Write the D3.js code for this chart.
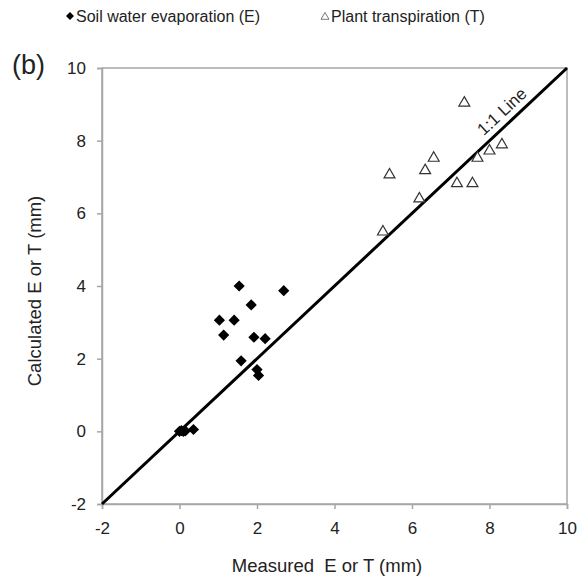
<!DOCTYPE html>
<html>
<head>
<meta charset="utf-8">
<script src="https://cdn.jsdelivr.net/npm/d3@7"></script>
<style>
  body { margin: 0; background: #fff; }
  text { font-family: "Liberation Sans", Arial, sans-serif; fill: #222; }
</style>
</head>
<body>
<div id="chart"></div>
<script>
// Chart size
var width = 579;
var height = 576;

// Margins
var margin = { top: 68, right: 12, bottom: 72, left: 102 };
var innerWidth = width - margin.left - margin.right;
var innerHeight = height - margin.top - margin.bottom;

// Data: soil water evaporation (E)
var evapMeasured = [1.54, 2.69, 1.85, 1.03, 1.41, 1.14, 1.92, 2.21, 1.59, 2.0, 2.04, 0.0, 0.05, 0.1, 0.15, 0.36];
var evapCalculated = [4.0, 3.87, 3.48, 3.06, 3.06, 2.65, 2.59, 2.55, 1.94, 1.7, 1.54, 0.0, 0.02, 0.0, 0.01, 0.05];

// Data: plant transpiration (T)
var transMeasured = [7.35, 5.42, 6.56, 6.34, 6.19, 5.25, 7.16, 7.56, 7.69, 8.0, 8.32];
var transCalculated = [9.04, 7.06, 7.52, 7.18, 6.4, 5.49, 6.82, 6.82, 7.52, 7.72, 7.89];

var tickValues = [-2, 0, 2, 4, 6, 8, 10];
var oneToOne = [-2, 10];

var svg = d3.select("#chart")
  .append("svg")
  .attr("width", width)
  .attr("height", height);

var g = svg.append("g")
  .attr("transform", "translate(" + margin.left + "," + margin.top + ")");

var x = d3.scaleLinear().domain([-2, 10]).range([0, innerWidth]);
var y = d3.scaleLinear().domain([-2, 10]).range([innerHeight, 0]);

// Frame
g.append("rect")
  .attr("width", innerWidth)
  .attr("height", innerHeight)
  .attr("fill", "none")
  .attr("stroke", "#a6a6a6")
  .attr("stroke-width", 1.5);

// Axes (plain hyphen for negatives, like the original)
var xAxis = g.append("g")
  .attr("transform", "translate(0," + innerHeight + ")")
  .call(d3.axisBottom(x).tickValues(tickValues).tickSize(5).tickPadding(13).tickFormat(function (d) { return String(d); }));

var yAxis = g.append("g")
  .call(d3.axisLeft(y).tickValues(tickValues).tickSize(5).tickPadding(11).tickFormat(function (d) { return String(d); }));

[xAxis, yAxis].forEach(function (a) {
  a.select(".domain").attr("stroke", "#a6a6a6").attr("stroke-width", 1.5);
  a.selectAll(".tick line").attr("stroke", "#a6a6a6").attr("stroke-width", 1.5);
  a.selectAll(".tick text")
    .style("font-family", "'Liberation Sans', Arial, sans-serif")
    .style("font-size", "17px")
    .attr("fill", "#222");
});

// 1:1 line
g.append("line")
  .attr("x1", x(oneToOne[0])).attr("y1", y(oneToOne[0]))
  .attr("x2", x(oneToOne[1])).attr("y2", y(oneToOne[1]))
  .attr("stroke", "#000")
  .attr("stroke-width", 3);

var angle = Math.atan2(y(oneToOne[0]) - y(oneToOne[1]), x(oneToOne[1]) - x(oneToOne[0])) * 180 / Math.PI;
g.append("text")
  .attr("transform", "translate(" + (x(8.55) - 5) + "," + (y(8.55) - 5) + ") rotate(" + (-angle) + ")")
  .attr("text-anchor", "middle")
  .style("font-size", "17px")
  .text("1:1 Line");

// E points (diamonds)
var diamond = d3.symbol().type(d3.symbolDiamond2).size(80);
g.selectAll(".evap")
  .data(evapMeasured)
  .enter()
  .append("path")
  .attr("class", "evap")
  .attr("d", diamond)
  .attr("transform", function (d, i) {
    return "translate(" + x(d) + "," + y(evapCalculated[i]) + ")";
  })
  .attr("fill", "#000");

// T points (open triangles)
var triangle = d3.symbol().type(d3.symbolTriangle2).size(85);
g.selectAll(".trans")
  .data(transMeasured)
  .enter()
  .append("path")
  .attr("class", "trans")
  .attr("d", triangle)
  .attr("transform", function (d, i) {
    return "translate(" + x(d) + "," + y(transCalculated[i]) + ")";
  })
  .attr("fill", "#fff")
  .attr("stroke", "#333")
  .attr("stroke-width", 1.2);

// Axis titles
svg.append("text")
  .attr("x", 327)
  .attr("y", 572)
  .attr("text-anchor", "middle")
  .style("font-size", "18.5px")
  .style("white-space", "pre")
  .attr("xml:space", "preserve")
  .text("Measured  E or T (mm)");

svg.append("text")
  .attr("transform", "translate(41,291) rotate(-90)")
  .attr("text-anchor", "middle")
  .style("font-size", "18.5px")
  .text("Calculated E or T (mm)");

// Panel label
svg.append("text")
  .attr("x", 12)
  .attr("y", 74)
  .style("font-size", "27px")
  .text("(b)");

// Legend
var legend = svg.append("g");
legend.append("path")
  .attr("d", d3.symbol().type(d3.symbolDiamond2).size(40))
  .attr("transform", "translate(70,16)")
  .attr("fill", "#000");
legend.append("text")
  .attr("x", 76).attr("y", 22)
  .style("font-size", "16px")
  .text("Soil water evaporation (E)");
legend.append("path")
  .attr("d", d3.symbol().type(d3.symbolTriangle2).size(45))
  .attr("transform", "translate(325,17)")
  .attr("fill", "#fff")
  .attr("stroke", "#555")
  .attr("stroke-width", 0.8);
legend.append("text")
  .attr("x", 331).attr("y", 22)
  .style("font-size", "16px")
  .text("Plant transpiration (T)");
</script>
</body>
</html>
